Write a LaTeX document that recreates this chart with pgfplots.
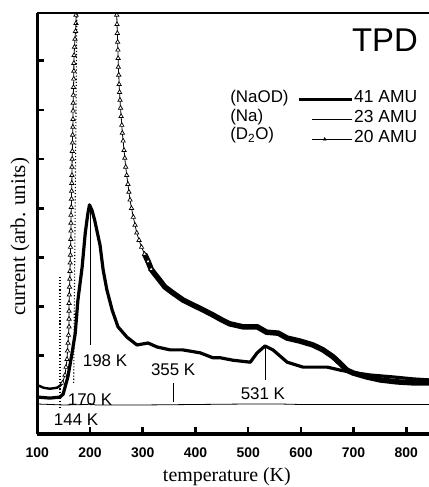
\documentclass[border=0pt]{standalone}
\usepackage{fontspec}
\setmainfont{Liberation Serif}
\setsansfont{Liberation Sans}
\usepackage{pgfplots}
\pgfplotsset{compat=1.18}
\newcommand{\fs}[1]{\fontsize{#1}{#1}\selectfont}

\pgfplotsset{
  d2o marks/.style={black, line width=0.8bp, mark=triangle*,
    mark size=2.5bp, mark options={fill=white, line width=0.7bp, solid}},
}
\tikzset{annot/.style={font=\sffamily\fs{17}, inner sep=0pt}}

\begin{document}
\begin{tikzpicture}
\begin{axis}[
  name=ax,
  scale only axis,
  width=391.7bp, height=421bp,
  xmin=100, xmax=843, ymin=-0.59, ymax=7.97,
  axis x line*=bottom, axis y line*=left,
  axis line style={line width=3.2bp},
  tick align=inside,
  major tick length=7bp,
  every tick/.style={black, line width=2.6bp},
  xtick={100,200,...,800},
  ytick={1,...,7}, yticklabels={},
  /pgf/number format/assume math mode=true,
  xticklabel style={font=\sffamily\bfseries\fs{14}, anchor=base, yshift=-23bp},
  xlabel={temperature (K)},
  ylabel={current (arb. units)},
  xlabel style={font=\fs{20}, at={(axis description cs:0.484,0)}, anchor=center, yshift=-43bp},
  ylabel style={font=\fs{21}, at={(axis description cs:-0.0442,0.468)}, anchor=center},
  clip marker paths=true,
  legend style={draw=none, fill=none, inner sep=0pt, row sep=1bp,
    at={(rel axis cs:0.663,0.818)}, anchor=north west,
    nodes={inner xsep=1bp, inner ysep=0pt, text height=12.5bp, text depth=6.5bp},
    font=\sffamily\fs{17.5}},
  legend cell align=left,
]
% 23 AMU (Na)
\addplot[black, line width=0.8bp, forget plot] coordinates {
  (100,0.02) (150,0.00) (195,0.01) (200,0.03) (210,0.00) (300,0.00)
  (400,0.01) (500,0.02) (560,0.02) (600,0.01) (700,0.01) (843,0.01)};

% 20 AMU (D2O): baseline, rise, steep descent, slow tail
\addplot[black, line width=2.4bp, forget plot] coordinates {
  (101,0.40) (112,0.35) (124,0.33) (137,0.35) (143,0.39) (148,0.45)};
\addplot[d2o marks, forget plot] coordinates {
  (147.8,0.45) (152.6,0.61) (154.5,0.77) (156.4,0.93) (157.3,1.10) (158.3,1.26)
  (159.2,1.42) (160.2,1.59) (160.2,1.75) (160.2,1.91) (160.2,2.07) (160.7,2.24)
  (161.1,2.40) (161.7,2.56) (162.0,2.72) (162.4,2.89) (162.8,3.05) (163.0,3.21)
  (163.6,3.37) (163.9,3.54) (163.9,3.70) (163.9,3.86) (164.5,4.02) (164.9,4.19)
  (165.1,4.35) (165.5,4.51) (165.7,4.67) (165.8,4.84) (166.2,5.00) (166.4,5.16)
  (166.8,5.33) (167.0,5.49) (167.4,5.65) (167.7,5.81) (167.9,5.98) (168.1,6.14)
  (168.3,6.30) (168.7,6.46) (169.1,6.63) (169.3,6.79) (169.4,6.95) (169.8,7.11)
  (170.6,7.28) (171.5,7.44) (172.5,7.60) (173.4,7.76) (173.4,7.93) (175,10)};
\addplot[black, line width=5.5bp, forget plot] coordinates {
  (303.4,3.07) (310.1,2.92) (316,2.76) (323,2.66) (329,2.58) (342,2.40)
  (357,2.28) (377,2.13) (396,2.03) (415,1.93) (433,1.83) (450,1.73)
  (465,1.65) (490,1.59) (517,1.59) (535,1.48) (557,1.46) (574,1.36)
  (598,1.30) (623,1.22) (642,1.12) (661,0.98) (674,0.85) (687,0.71)
  (699,0.65) (725,0.57) (750,0.51) (782,0.47) (813,0.45) (843,0.45)};
\addplot[d2o marks, forget plot] coordinates {
  (249,10) (250.7,7.93) (251.2,7.74) (251.8,7.56) (252.4,7.38) (252.9,7.22)
  (253.3,7.05) (253.7,6.87) (254.5,6.71) (255.2,6.52) (256.0,6.36) (256.9,6.20)
  (257.9,6.04) (259.0,5.87) (260.3,5.69) (261.3,5.53) (262.8,5.37) (264.5,5.18)
  (266.0,5.02) (267.7,4.84) (269.6,4.67) (271.9,4.49) (273.8,4.33) (275.9,4.17)
  (278.7,4.00) (282.2,3.82) (285.4,3.66) (288.6,3.50) (293.0,3.35) (297.7,3.21)
  (303.4,3.07) (310.1,2.92) (316,2.76)};

% 41 AMU (NaOD)
\addplot[black, line width=3.2bp, line join=round, forget plot] coordinates {
  (101,0.16) (124,0.14) (143,0.16) (149,0.22) (158,0.57) (166,1.06)
  (172,1.46) (177,2.13) (185,2.80) (191,3.50) (196,3.90) (199,4.07)
  (204,3.95) (209,3.75) (214,3.50) (219,3.25) (225,2.74) (232,2.34)
  (242,1.93) (253,1.59) (270,1.38) (289,1.22) (310,1.26) (327,1.18)
  (352,1.12) (376,1.12) (409,1.06) (433,0.96) (447,0.96) (471,0.91)
  (504,0.87) (517,1.06) (532,1.20) (547,1.12) (574,0.87) (604,0.77)
  (650,0.77) (674,0.71) (693,0.67) (731,0.61) (775,0.57) (813,0.53)
  (843,0.51)};

% legend
\addlegendimage{legend image code/.code={
  \draw[line width=3bp] (0bp,0bp) -- (53bp,0bp);}}
\addlegendentry{41 AMU}
\addlegendimage{legend image code/.code={
  \draw[line width=0.8bp] (13bp,0bp) -- (53bp,0bp);}}
\addlegendentry{23 AMU}
\addlegendimage{legend image code/.code={
  \draw[line width=0.8bp] (13bp,0bp) -- (53bp,0bp);
  \draw[fill=black] (26bp,0bp) ++(90:1.8bp) -- ++(-120:3.1bp) -- ++(0:3.1bp) -- cycle;}}
\addlegendentry{20 AMU}

\node[annot, anchor=base west] at (axis cs:465.7,6.16) {(NaOD)};
\node[annot, anchor=base west] at (axis cs:465.7,5.77) {(Na)};
\node[annot, anchor=base west] at (axis cs:465.7,5.39) {(D\textsubscript{2}O)};

\node[font=\sffamily\fs{33}, inner sep=0pt] at (axis cs:759.6,7.42) {TPD};

% peak markers
\draw[line width=0.8bp] (axis cs:200,3.96) -- (axis cs:200,1.22);
\draw[line width=0.8bp] (axis cs:357.7,0.45) -- (axis cs:357.7,0.06);
\draw[line width=0.8bp] (axis cs:531.8,1.20) -- (axis cs:531.8,0.51);
\draw[dotted, line width=1.1bp] (axis cs:143,2.60) -- (axis cs:143,-0.10);
\draw[dotted, line width=1.1bp] (axis cs:169,0.45) -- (axis cs:175,7.97);

\node[annot] at (axis cs:228.5,0.91) {198 K};
\node[annot] at (axis cs:357.7,0.71) {355 K};
\node[annot] at (axis cs:528,0.24) {531 K};
\node[annot] at (axis cs:200,0.10) {170 K};
\node[annot] at (axis cs:173.5,-0.30) {144 K};
\end{axis}
\draw[line width=2.8bp] (ax.north west) -- (ax.north east);
\pgfresetboundingbox
\path ([xshift=-37.3bp,yshift=-53bp]ax.south west) rectangle ([yshift=13bp]ax.north east);
\end{tikzpicture}
\end{document}
